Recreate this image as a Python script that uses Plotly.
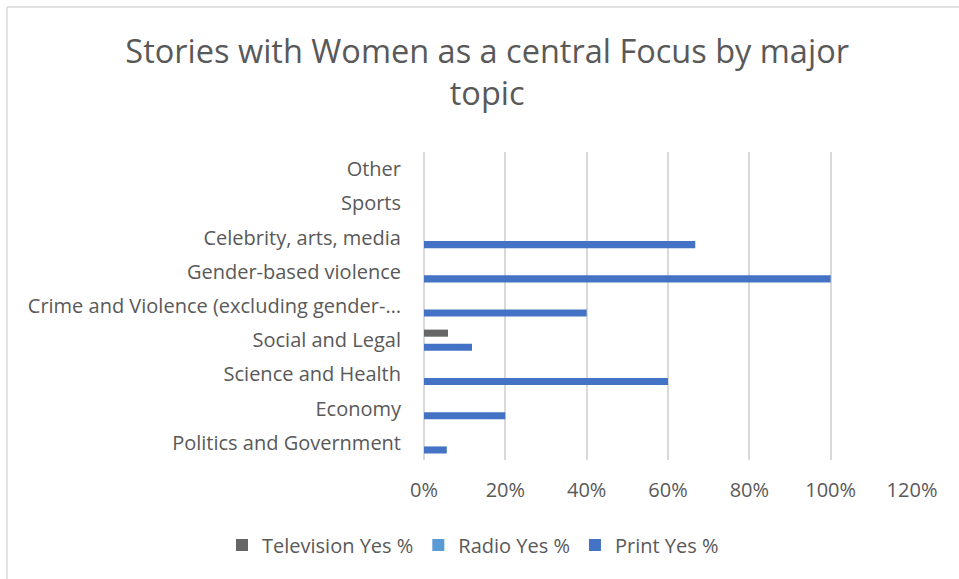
import plotly.graph_objects as go

# Topics, bottom to top
topics = [
    "Politics and Government",
    "Economy",
    "Science and Health",
    "Social and Legal",
    "Crime and Violence (excluding gender-…",
    "Gender-based violence",
    "Celebrity, arts, media",
    "Sports",
    "Other",
]

# Share of stories with women as a central focus (fractions)
television_yes = [0, 0, 0, 0.059, 0, 0, 0, 0, 0]
radio_yes = [0, 0, 0, 0, 0, 0, 0, 0, 0]
print_yes = [0.056, 0.20, 0.60, 0.118, 0.40, 1.00, 0.667, 0, 0]

x_ticks = [0, 0.2, 0.4, 0.6, 0.8, 1.0, 1.2]

TEXT = "#595959"
FONT = "Open Sans"

fig = go.Figure()
# Added bottom-up inside each group; legend order is reversed below
fig.add_trace(go.Bar(name="Print Yes %", y=topics, x=print_yes, orientation="h",
                     marker=dict(color="#4472C4", line=dict(width=0))))
fig.add_trace(go.Bar(name="Radio Yes %", y=topics, x=radio_yes, orientation="h",
                     marker=dict(color="#5B9BD5", line=dict(width=0))))
fig.add_trace(go.Bar(name="Television Yes %", y=topics, x=television_yes, orientation="h",
                     marker=dict(color="#666666", line=dict(width=0))))

W, H = 959, 579
ml, mr, mt, mb = 424, 47, 152, 119
pw, ph = W - ml - mr, H - mt - mb

def px_x(p):
    return (p - ml) / pw

def px_y(p):
    return 1 - (p - mt) / ph

fig.update_layout(
    width=W, height=H,
    margin=dict(l=ml, r=mr, t=mt, b=mb),
    paper_bgcolor="white", plot_bgcolor="white",
    barmode="group", bargap=0.38, bargroupgap=0,
    font=dict(family=FONT, color=TEXT, size=20),
    title=dict(
        text="Stories with Women as a central Focus by major<br>topic",
        font=dict(family=FONT, size=32.5, color=TEXT),
        x=0.508, xanchor="center", xref="container",
        y=1 - 63 / H, yanchor="top", yref="container",
    ),
    legend=dict(
        orientation="h", traceorder="reversed",
        x=px_x(222), xanchor="left", xref="paper",
        y=px_y(545), yanchor="middle", yref="paper",
        font=dict(family=FONT, size=20, color=TEXT),
        itemwidth=30, itemsizing="constant",
    ),
    showlegend=True,
    xaxis=dict(
        range=[0, 1.2], tickvals=x_ticks, tickformat=".0%",
        showgrid=True, gridcolor="#D9D9D9", gridwidth=1.5,
        zeroline=True, zerolinecolor="#D9D9D9", zerolinewidth=1.5,
        showline=False, ticks="", ticklabelstandoff=16,
        tickfont=dict(family=FONT, size=20, color=TEXT),
        fixedrange=True,
    ),
    yaxis=dict(
        categoryorder="array", categoryarray=topics,
        showgrid=False, zeroline=False, showline=False, ticks="",
        ticklabelstandoff=22,
        tickfont=dict(family=FONT, size=20, color=TEXT),
        fixedrange=True,
    ),
    shapes=[
        # chart frame: visible top and left edges
        dict(type="line", xref="paper", yref="paper",
             x0=px_x(7), x1=px_x(W + 5), y0=px_y(7), y1=px_y(7),
             line=dict(color="#D9D9D9", width=1.5)),
        dict(type="line", xref="paper", yref="paper",
             x0=px_x(7), x1=px_x(7), y0=px_y(7), y1=px_y(H + 5),
             line=dict(color="#D9D9D9", width=1.5)),
    ],
)

fig.write_html("out.html")
